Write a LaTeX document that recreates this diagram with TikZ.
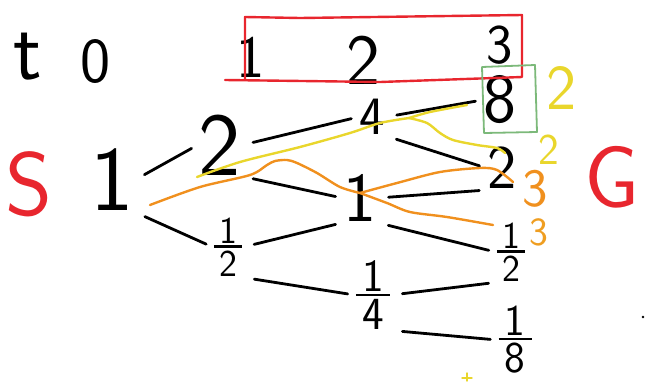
\documentclass[tikz,border=0pt]{standalone}
\usepackage{tikz}
\usetikzlibrary{positioning}
\definecolor{penred}{HTML}{E8262E}
\definecolor{penyellow}{HTML}{E9D62C}
\definecolor{penorange}{HTML}{F0901E}
\definecolor{pengreen}{HTML}{7CB97A}
\newcommand{\hfr}[2]{\shortstack{#1\\[-1pt]\rule{0.75em}{2.4pt}\\#2}}

\begin{document}
\begin{tikzpicture}[x=1pt, y=-1pt, on grid, hand/.style={font=\sffamily\fontsize{#1}{#1}\selectfont, inner sep=1pt}, edge/.style={line width=2.8pt, line cap=round, shorten <=11pt, shorten >=7pt}, ink/.style={line width=2.4pt, line cap=round, line join=round}]
\useasboundingbox (0,0) rectangle (645,381);
% header row
\node[hand=84] (tlab) at (28,57) {t};
\node[hand=64] (zero) at (96,62) {0};
\node[hand=60] (h1) at (251,57) {1};
\node[hand=72] (h2) at (363,60) {2};
\node[hand=56] (h3) at (500,45) {3};
\node[hand=90, text=penred] (start) at (29,184) {S};
\node[hand=88, text=penred] (goal) at (612,177) {G};
% tree
\node[hand=92] (root) at (112,180) {1};
\node[hand=90, above right=35pt and 108pt of root] (a1) {2};
\node[hand=38, below right=67pt and 116pt of root] (b1) {\hfr{1}{2}};
\node[hand=54, above right=28pt and 152pt of a1] (a2) {4};
\node[hand=70, below right=53pt and 140pt of a1] (b2) {1};
\node[hand=46, below right=48pt and 145pt of b1] (c2) {\hfr{1}{4}};
\node[hand=70, above right=17pt and 128pt of a2] (a3) {8};
\node[hand=62, below right=51pt and 130pt of a2] (b3) {2};
\node[hand=38, below right=54pt and 151pt of b2] (c3) {\hfr{1}{2}};
\node[hand=44, below right=45pt and 142pt of c2] (d3) {\hfr{1}{8}};
\draw[edge] (root.east) -- (a1.west);
\draw[edge] (root.south east) -- (b1.west);
\draw[edge] (a1.east) -- (a2.west);
\draw[edge] (a1.south east) -- (b2.west);
\draw[edge] (b1.east) -- (b2.south west);
\draw[edge] (b1.south east) -- (c2.west);
\draw[edge] (a2.east) -- (a3.west);
\draw[edge] (a2.south east) -- (b3.west);
\draw[edge] (b2.east) -- (b3.south west);
\draw[edge] (b2.south east) -- (c3.west);
\draw[edge] (c2.east) -- (c3.south west);
\draw[edge] (c2.south east) -- (d3.west);
% boxes
\draw[ink, penred] (225,80) -- (380,82) -- (522,77) -- (522,15) -- (300,18) -- (245,17) -- (245,80);
\draw[ink, pengreen, line width=1.8pt] (482,67) -- (535,65) -- (537,132) -- (484,133) -- cycle;
% highlighted paths
\draw[ink, penyellow] plot[smooth] coordinates {(197,177) (240,162) (300,147) (350,133) (380,123) (409,118)};
\draw[ink, penyellow] plot[smooth] coordinates {(409,118) (430,112) (467,105)};
\draw[ink, penyellow] plot[smooth] coordinates {(409,118) (427,123) (440,133) (453,140) (477,145) (497,148) (505,153)};
\draw[ink, penorange] plot[smooth] coordinates {(150,205) (200,187) (250,175) (267,165) (275,161) (287,160) (297,163) (317,173) (340,187) (360,193)};
\draw[ink, penorange] plot[smooth] coordinates {(360,193) (397,183) (440,172) (480,168) (497,170) (513,182)};
\draw[ink, penorange] plot[smooth] coordinates {(360,193) (387,203) (410,212) (447,217) (493,225)};
\node[hand=64, text=penyellow] (y1) at (562,88) {2};
\node[hand=44, text=penyellow] (y2) at (549,150) {2};
\node[hand=54, text=penorange] (o1) at (535,189) {3};
\node[hand=40, text=penorange!80!penyellow] (o2) at (539,232) {3};
% stray marks
\fill (643,317) circle (1.4);
\draw[ink, penyellow, line width=1.4pt] (462,378) -- (472,378) (467,373) -- (467,381);
\end{tikzpicture}
\end{document}
